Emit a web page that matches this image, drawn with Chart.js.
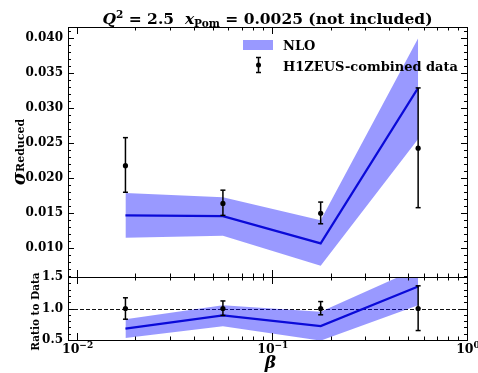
<!DOCTYPE html>
<html>
<head>
<meta charset="utf-8">
<script src="https://cdn.jsdelivr.net/npm/chart.js@4.4.0/dist/chart.umd.min.js"></script>
<style>
    body { margin: 0; background: #fff; }
    #wrap { position: relative; width: 478px; height: 373px; background: #fff; }
    canvas { position: absolute; left: 0; }
</style>
</head>
<body>
<div id="wrap">
    <canvas id="topChart" width="478" height="290" style="top:0;width:478px;height:290px"></canvas>
    <canvas id="ratioChart" width="478" height="113" style="top:260px;width:478px;height:113px"></canvas>
</div>
<script>
// beta bins (x values)
const betaValues = [0.0178, 0.0562, 0.178, 0.562];

// H1ZEUS-combined data, reduced cross section
const dataSigma = [0.0218, 0.0164, 0.0150, 0.0243];
const dataSigmaHigh = [0.0258, 0.0183, 0.0166, 0.0329];
const dataSigmaLow = [0.0180, 0.0147, 0.0135, 0.0158];

// NLO prediction with its band
const nloCentral = [0.0147, 0.0146, 0.0107, 0.0329];
const nloUpper = [0.0179, 0.0173, 0.0140, 0.0400];
const nloLower = [0.0115, 0.0118, 0.0075, 0.0256];

// ratio panel (NLO / data)
const ratioData = [1.0, 1.0, 1.0, 1.0];
const ratioDataHigh = [1.17, 1.12, 1.11, 1.36];
const ratioDataLow = [0.83, 0.89, 0.90, 0.65];
const ratioCentral = [0.68, 0.89, 0.72, 1.35];
const ratioUpper = [0.83, 1.05, 0.95, 1.64];
const ratioLower = [0.53, 0.72, 0.49, 1.05];
const ratioRefLine = 1.0;

// axes
const xMin = 0.00904, xMax = 1.0;
const topYMin = 0.0059, topYMax = 0.0416;
const topYTicks = [0.010, 0.015, 0.020, 0.025, 0.030, 0.035, 0.040];
const ratioYMin = 0.5, ratioYMax = 1.5;
const ratioYTicks = [0.5, 1.0, 1.5];
const xTickValues = [0.01, 0.1, 1];
const xTickExponents = ["\u22122", "\u22121", "0"];

const FONT = "DejaVu Serif";
const bandColor = "rgba(0, 0, 255, 0.4)";
const lineColor = "#0a0ad8";

Chart.defaults.font.family = FONT;
Chart.defaults.color = "#000";

function pts(xs, ys) {
    return xs.map((x, i) => ({ x, y: ys[i] }));
}

function drawPieces(ctx, pieces, x, y, align) {
    let total = 0;
    pieces.forEach((p) => {
        ctx.font = p.font;
        p.w = ctx.measureText(p.text).width;
        total += p.w;
    });
    let cx = align === "center" ? x - total / 2 : x;
    pieces.forEach((p) => {
        ctx.font = p.font;
        ctx.fillText(p.text, cx, y + (p.dy || 0));
        cx += p.w;
    });
}

function line(ctx, x1, y1, x2, y2) {
    ctx.beginPath();
    ctx.moveTo(x1, y1);
    ctx.lineTo(x2, y2);
    ctx.stroke();
}

// inward ticks on all four sides plus frame
function frameTicks(majors, minorStep) {
    return {
        id: "frameTicks",
        afterDraw(chart) {
            const { ctx, chartArea: a } = chart;
            const x = chart.scales.x, y = chart.scales.y;
            ctx.save();
            ctx.strokeStyle = "#000";
            ctx.lineWidth = 1;
            for (let d = -3; d <= 0; d++) {
                for (let m = 1; m <= 9; m++) {
                    const v = m * Math.pow(10, d);
                    if (v < x.min * 0.9999 || v > x.max * 1.0001) continue;
                    const px = Math.round(x.getPixelForValue(v)) + 0.5;
                    const len = m === 1 ? 7 : 3.5;
                    line(ctx, px, a.bottom, px, a.bottom - len);
                    line(ctx, px, a.top, px, a.top + len);
                }
            }
            const k0 = Math.ceil(y.min / minorStep - 1e-6);
            const k1 = Math.floor(y.max / minorStep + 1e-6);
            for (let k = k0; k <= k1; k++) {
                const v = k * minorStep;
                const major = majors.some((t) => Math.abs(t - v) < minorStep / 10);
                const py = Math.round(y.getPixelForValue(v)) + 0.5;
                const len = major ? 6 : 3;
                line(ctx, a.left, py, a.left + len, py);
                line(ctx, a.right, py, a.right - len, py);
            }
            ctx.strokeRect(Math.round(a.left) + 0.5, Math.round(a.top) + 0.5,
                Math.round(a.right - a.left), Math.round(a.bottom - a.top));
            ctx.restore();
        },
    };
}

function errorBars(lo, hi) {
    return {
        id: "errorBars",
        afterDatasetsDraw(chart) {
            const { ctx, chartArea: a } = chart;
            const x = chart.scales.x, y = chart.scales.y;
            ctx.save();
            ctx.beginPath();
            ctx.rect(a.left, a.top, a.right - a.left, a.bottom - a.top);
            ctx.clip();
            ctx.strokeStyle = "#000";
            ctx.lineWidth = 1.5;
            betaValues.forEach((b, i) => {
                const px = x.getPixelForValue(b);
                const y1 = y.getPixelForValue(lo[i]);
                const y2 = y.getPixelForValue(hi[i]);
                line(ctx, px, y1, px, y2);
                line(ctx, px - 2.5, y1, px + 2.5, y1);
                line(ctx, px - 2.5, y2, px + 2.5, y2);
            });
            ctx.restore();
        },
    };
}

const topTexts = {
    id: "topTexts",
    afterDraw(chart) {
        const ctx = chart.ctx;
        const a = chart.chartArea;
        ctx.save();
        ctx.fillStyle = "#000";
        ctx.textBaseline = "alphabetic";
        // title
        drawPieces(ctx, [
            { text: "Q", font: `italic bold 15.5px ${FONT}` },
            { text: "2", font: `bold 10.5px ${FONT}`, dy: -6 },
            { text: " = 2.5  ", font: `bold 15.5px ${FONT}` },
            { text: "x", font: `italic bold 15.5px ${FONT}` },
            { text: "Pom", font: `bold 10.5px ${FONT}`, dy: 3 },
            { text: " = 0.0025 (not included)", font: `bold 15.5px ${FONT}` },
        ], (a.left + a.right) / 2, 24, "center");

        // y axis label
        ctx.save();
        ctx.translate(25, (a.top + a.bottom) / 2);
        ctx.rotate(-Math.PI / 2);
        drawPieces(ctx, [
            { text: "\u03C3", font: `italic bold 18px ${FONT}` },
            { text: "Reduced", font: `bold 11px ${FONT}`, dy: -1 },
        ], 0, 0, "center");
        ctx.restore();

        // legend
        ctx.fillStyle = bandColor;
        ctx.fillRect(243, 40, 30, 10);
        ctx.fillStyle = "#000";
        ctx.font = `bold 13px ${FONT}`;
        ctx.fillText("NLO", 283, 49.5);
        ctx.strokeStyle = "#000";
        ctx.lineWidth = 1.5;
        line(ctx, 258.5, 57.5, 258.5, 72.5);
        line(ctx, 256, 57.5, 261, 57.5);
        line(ctx, 256, 72.5, 261, 72.5);
        ctx.beginPath();
        ctx.arc(258.5, 65, 2.5, 0, Math.PI * 2);
        ctx.fill();
        ctx.fillText("H1ZEUS-combined data", 283, 70.5);
        ctx.restore();
    },
};

const ratioTexts = {
    id: "ratioTexts",
    beforeDatasetsDraw(chart) {
        // dashed reference line at ratio 1
        const { ctx, chartArea: a } = chart;
        const py = Math.round(chart.scales.y.getPixelForValue(ratioRefLine)) + 0.5;
        ctx.save();
        ctx.strokeStyle = "#111";
        ctx.lineWidth = 1;
        ctx.setLineDash([4, 2]);
        line(ctx, a.left, py, a.right, py);
        ctx.restore();
    },
    afterDraw(chart) {
        const ctx = chart.ctx;
        const a = chart.chartArea;
        const x = chart.scales.x;
        ctx.save();
        ctx.fillStyle = "#000";
        // x tick labels as 10 with a raised exponent
        xTickValues.forEach((v, i) => {
            drawPieces(ctx, [
                { text: "10", font: `bold 12.5px ${FONT}` },
                { text: xTickExponents[i], font: `bold 9px ${FONT}`, dy: -5 },
            ], x.getPixelForValue(v) + 1, a.bottom + 13, "center");
        });
        ctx.save();
        ctx.translate(39, (a.top + a.bottom) / 2 + 3);
        ctx.rotate(-Math.PI / 2);
        drawPieces(ctx, [
            { text: "Ratio to Data", font: `bold 10.5px ${FONT}` },
        ], 0, 0, "center");
        ctx.restore();
        drawPieces(ctx, [
            { text: "\u03B2", font: `italic bold 17px ${FONT}` },
        ], (a.left + a.right) / 2 + 3, 108, "center");
        ctx.restore();
    },
};

function lineDatasets(central, upper, lower, dataVals) {
    return [
        {
            type: "scatter",
            data: pts(betaValues, dataVals),
            pointRadius: 2.6,
            pointBackgroundColor: "#000",
            pointBorderWidth: 0,
        },
        {
            type: "line",
            data: pts(betaValues, central),
            borderColor: lineColor,
            borderWidth: 2.2,
            pointRadius: 0,
            tension: 0,
            fill: false,
        },
        {
            type: "line",
            data: pts(betaValues, upper),
            borderWidth: 0,
            pointRadius: 0,
            tension: 0,
            backgroundColor: bandColor,
            fill: "+1",
        },
        {
            type: "line",
            data: pts(betaValues, lower),
            borderWidth: 0,
            pointRadius: 0,
            tension: 0,
            fill: false,
        },
    ];
}

const commonOptions = {
    responsive: false,
    animation: false,
    devicePixelRatio: 1,
    events: [],
};

new Chart(document.getElementById("topChart"), {
    data: { datasets: lineDatasets(nloCentral, nloUpper, nloLower, dataSigma) },
    options: {
        ...commonOptions,
        layout: { padding: { top: 27, right: 11, bottom: 13, left: 0 } },
        plugins: { legend: { display: false }, tooltip: { enabled: false } },
        scales: {
            x: { type: "logarithmic", min: xMin, max: xMax, display: false },
            y: {
                type: "linear",
                min: topYMin,
                max: topYMax,
                grid: { display: false, drawTicks: false },
                border: { display: false },
                afterBuildTicks: (s) => { s.ticks = topYTicks.map((v) => ({ value: v })); },
                afterFit: (s) => { s.width = 68; },
                ticks: {
                    padding: 5,
                    font: { size: 12, weight: "bold" },
                    callback: (v) => Number(v).toFixed(3),
                },
            },
        },
    },
    plugins: [errorBars(dataSigmaLow, dataSigmaHigh), frameTicks(topYTicks, 0.001), topTexts],
});

new Chart(document.getElementById("ratioChart"), {
    data: { datasets: lineDatasets(ratioCentral, ratioUpper, ratioLower, ratioData) },
    options: {
        ...commonOptions,
        layout: { padding: { top: 17, right: 11, bottom: 0, left: 0 } },
        plugins: { legend: { display: false }, tooltip: { enabled: false } },
        scales: {
            x: {
                type: "logarithmic",
                min: xMin,
                max: xMax,
                grid: { display: false, drawTicks: false },
                border: { display: false },
                afterBuildTicks: (s) => { s.ticks = xTickValues.map((v) => ({ value: v })); },
                afterFit: (s) => { s.height = 33; },
                ticks: { display: false },
            },
            y: {
                type: "linear",
                min: ratioYMin,
                max: ratioYMax,
                grid: { display: false, drawTicks: false },
                border: { display: false },
                afterBuildTicks: (s) => { s.ticks = ratioYTicks.map((v) => ({ value: v })); },
                afterFit: (s) => { s.width = 68; },
                ticks: {
                    padding: 5,
                    font: { size: 12, weight: "bold" },
                    callback: (v) => Number(v).toFixed(1),
                },
            },
        },
    },
    plugins: [errorBars(ratioDataLow, ratioDataHigh), frameTicks(ratioYTicks, 0.1), ratioTexts],
});
</script>
</body>
</html>
